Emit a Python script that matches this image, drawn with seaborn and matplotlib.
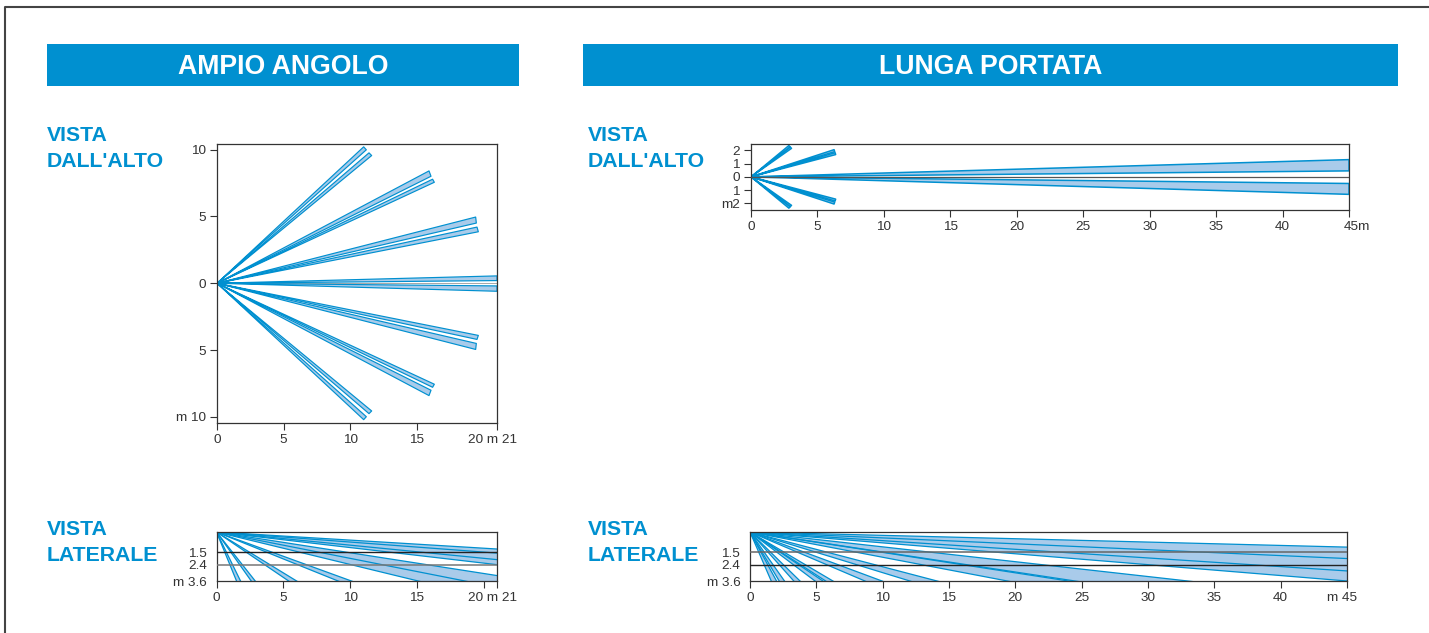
import pandas as pd
import seaborn as sns
import matplotlib.pyplot as plt
from matplotlib.lines import Line2D
from matplotlib.patches import Rectangle

W, H = 1429, 633
BLUE = '#0090d0'
FILL = '#a9cbea'
DARK = '#333333'

# top view, wide angle: end corners (x, y) of the two strips of each beam
wide_top_beams = [
    [(11.0, 10.2), (11.2, 9.98), (11.4, 9.75), (11.6, 9.55)],
    [(15.9, 8.4), (16.05, 8.0), (16.17, 7.78), (16.3, 7.55)],
    [(19.4, 4.95), (19.45, 4.5), (19.5, 4.2), (19.6, 3.85)],
    [(21, 0.55), (21, 0.2), (21, -0.2), (21, -0.6)],
    [(19.6, -3.9), (19.5, -4.2), (19.45, -4.5), (19.4, -4.95)],
    [(16.3, -7.55), (16.17, -7.78), (16.05, -8.0), (15.9, -8.4)],
    [(11.6, -9.55), (11.4, -9.75), (11.2, -9.98), (11.0, -10.2)],
]

# top view, long range
long_top_beams = [
    [(2.85, 2.36), (2.95, 2.25), (2.95, 2.25), (3.05, 2.15)],
    [(6.25, 2.05), (6.3, 1.9), (6.33, 1.82), (6.37, 1.68)],
    [(45, 1.3), (45, 0.45), (45, -0.5), (45, -1.32)],
    [(6.37, -1.68), (6.33, -1.82), (6.3, -1.9), (6.25, -2.05)],
    [(3.05, -2.15), (2.95, -2.25), (2.95, -2.25), (2.85, -2.36)],
]

# side views: (distance, depth) where each ray leaves the chart
wide_side_rays = [(21, 1.25), (21, 1.55), (21, 2.03), (21, 2.4), (21, 3.2), (18.6, 3.6), (15.1, 3.6),
                  (10.1, 3.6), (9.1, 3.6), (6.0, 3.6), (5.4, 3.6), (2.9, 3.6), (2.6, 3.6), (1.8, 3.6), (1.5, 3.6)]
wide_side_bands = [((21, 1.25), (21, 2.4)), ((21, 3.2), (15.1, 3.6)), ((10.1, 3.6), (9.1, 3.6)),
                   ((6.0, 3.6), (5.4, 3.6)), ((2.9, 3.6), (2.6, 3.6)), ((1.8, 3.6), (1.5, 3.6))]

long_side_rays = [(45, 1.11), (45, 1.95), (45, 2.86), (45, 3.6), (33.0, 3.6), (24.5, 3.6), (24.0, 3.6), (19.4, 3.6),
                  (14.1, 3.6), (12.05, 3.6), (9.95, 3.6), (8.66, 3.6), (6.25, 3.6), (5.7, 3.6), (5.5, 3.6),
                  (4.9, 3.6), (3.77, 3.6), (3.3, 3.6), (2.6, 3.6), (2.2, 3.6), (2.0, 3.6), (1.6, 3.6)]
long_side_bands = [((45, 1.11), (45, 3.6)), ((33.0, 3.6), (24.5, 3.6)), ((24.0, 3.6), (19.4, 3.6)),
                   ((14.1, 3.6), (12.05, 3.6)), ((9.95, 3.6), (8.66, 3.6)), ((6.25, 3.6), (5.7, 3.6)),
                   ((5.5, 3.6), (4.9, 3.6)), ((3.77, 3.6), (3.3, 3.6)), ((2.6, 3.6), (2.2, 3.6)), ((2.0, 3.6), (1.6, 3.6))]

wide_x_ticks = [0, 5, 10, 15, 20, 21]
long_x_ticks = [0, 5, 10, 15, 20, 25, 30, 35, 40, 45]
wide_top_yticks = [10, 5, 0, -5, -10]
wide_top_ylabels = ['10', '5', '0', '5', 'm 10']
long_top_yticks = [2, 1, 0, -1, -2]
long_top_ylabels = ['2', '1', '0', '1', 'm2']
side_yticks = [1.5, 2.4, 3.6]
side_ylabels = ['1.5', '2.4', 'm 3.6']

sns.set_theme(style='white')
plt.rcParams['font.family'] = ['Liberation Sans', 'DejaVu Sans']
plt.rcParams['axes.edgecolor'] = DARK
plt.rcParams['axes.linewidth'] = 0.9
plt.rcParams['xtick.color'] = DARK
plt.rcParams['ytick.color'] = DARK

fig = plt.figure(figsize=(W / 100, H / 100), dpi=100)


def px_axes(left, top, right, bottom):
    return fig.add_axes([left / W, 1 - bottom / H, (right - left) / W, (bottom - top) / H])


def draw_edges(ax, paths, lw):
    rows = []
    for i, path in enumerate(paths):
        for x, y in path:
            rows.append({'edge': i, 'x': x, 'y': y})
    sns.lineplot(data=pd.DataFrame(rows), x='x', y='y', units='edge', estimator=None, sort=False,
                 color=BLUE, linewidth=lw, legend=False, ax=ax)


def draw_top(ax, beams, lw=0.85):
    paths = []
    for beam in beams:
        for a, b in zip(beam[0::2], beam[1::2]):
            ax.fill([0, a[0], b[0]], [0, a[1], b[1]], color=FILL, lw=0)
            paths.append([(0, 0), a, b, (0, 0)])
    draw_edges(ax, paths, lw)


def draw_side(ax, rays, bands):
    # rays run past the frame, the axes clip them
    for a, b in bands:
        ax.fill([0, a[0] * 3, b[0] * 3], [0, a[1] * 3, b[1] * 3], color=FILL, lw=0)
    draw_edges(ax, [[(0, 0), (x * 3, d * 3)] for x, d in rays], 0.9)


def style_axes(ax, xlim, ylim, xticks, xlabels, yticks, ylabels, ylen=5):
    ax.set_xlim(*xlim)
    ax.set_ylim(*ylim)
    ax.set_xticks(xticks)
    ax.set_xticklabels(xlabels)
    ax.set_yticks(yticks)
    ax.set_yticklabels(ylabels)
    ax.set_xlabel('')
    ax.set_ylabel('')
    ax.tick_params(axis='x', length=5, width=0.8, labelsize=9.7, pad=3, bottom=True)
    ax.tick_params(axis='y', length=ylen, width=0.8, labelsize=9.7, pad=3 if ylen else 7, left=ylen > 0)
    ax.set_facecolor('white')


def end_label(ax, x, text, dx):
    ax.annotate(text, xy=(x, 0), xycoords=('data', 'axes fraction'), xytext=(dx, -8.2),
                textcoords='offset points', ha='right', va='top', fontsize=9.7, color=DARK)


# header bars
for left, right, title in [(47, 519, 'AMPIO ANGOLO'), (583, 1398, 'LUNGA PORTATA')]:
    fig.add_artist(Rectangle((left / W, 1 - 86 / H), (right - left) / W, 42 / H, color=BLUE, lw=0))
    fig.text((left + right) / 2 / W, 1 - 67 / H, title, color='white', fontsize=19.2,
             fontweight='bold', ha='center', va='center')

# section labels
for x, y, txt in [(47, 148.5, "VISTA\nDALL'ALTO"), (588, 148.5, "VISTA\nDALL'ALTO"),
                  (47, 542.5, 'VISTA\nLATERALE'), (588, 542.5, 'VISTA\nLATERALE')]:
    fig.text(x / W, 1 - y / H, txt, color=BLUE, fontsize=15.3, fontweight='bold',
             ha='left', va='center', linespacing=1.42)

# page frame
fig.add_artist(Line2D([4.5 / W, 4.5 / W, 1], [0, 1 - 7 / H, 1 - 7 / H], color='#444444', lw=1.5))

ax1 = px_axes(217, 143.5, 497, 423)
draw_top(ax1, wide_top_beams)
ax1.axhline(0, color='#999999', lw=0.6, zorder=1)
style_axes(ax1, (0, 21), (-10.45, 10.45), [0, 5, 10, 15, 21], ['0', '5', '10', '15', ''],
           wide_top_yticks, wide_top_ylabels)
end_label(ax1, 21, '20 m 21', 14.5)

ax2 = px_axes(751, 143.7, 1349, 210)
draw_top(ax2, long_top_beams, lw=1.1)
ax2.axhline(0, color='#555555', lw=0.9, zorder=5)
style_axes(ax2, (0, 45), (-2.5, 2.5), long_x_ticks, [str(t) for t in long_x_ticks[:-1]] + [''],
           long_top_yticks, long_top_ylabels)
end_label(ax2, 45, '45m', 15)

ax3 = px_axes(216.5, 532, 497, 581)
draw_side(ax3, wide_side_rays, wide_side_bands)
ax3.axhline(1.5, color='#222222', lw=1.0, zorder=5)
ax3.axhline(2.4, color='#777777', lw=1.1, zorder=5)
style_axes(ax3, (0, 21), (3.6, 0), wide_x_ticks, ['0', '5', '10', '15', '', ''],
           side_yticks, side_ylabels, ylen=0)
end_label(ax3, 21, '20 m 21', 14.5)

ax4 = px_axes(750, 532, 1347, 581)
draw_side(ax4, long_side_rays, long_side_bands)
ax4.axhline(1.5, color='#666666', lw=1.1, zorder=5)
ax4.axhline(2.4, color='#222222', lw=1.0, zorder=5)
style_axes(ax4, (0, 45), (3.6, 0), long_x_ticks, [str(t) for t in long_x_ticks[:-1]] + [''],
           side_yticks, side_ylabels, ylen=0)
end_label(ax4, 45, 'm 45', 7.5)

fig.savefig('out.png', dpi=100, facecolor='white')
